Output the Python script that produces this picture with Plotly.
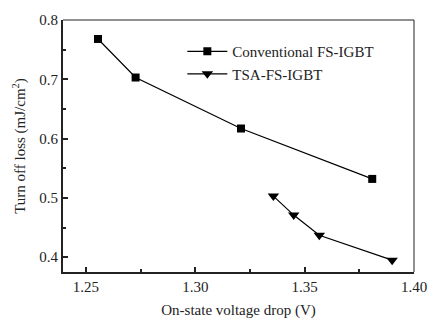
import plotly.graph_objects as go

conv_x = [1.2555, 1.2727, 1.3209, 1.3809]
conv_y = [0.768, 0.703, 0.617, 0.532]
tsa_x = [1.3357, 1.345, 1.3567, 1.390]
tsa_y = [0.503, 0.471, 0.437, 0.395]

x_ticks = [1.25, 1.30, 1.35, 1.40]
x_labels = ["1.25", "1.30", "1.35", "1.40"]
y_ticks = [0.4, 0.5, 0.6, 0.7, 0.8]
y_labels = ["0.4", "0.5", "0.6", "0.7", "0.8"]

font = "Liberation Serif, Times New Roman, serif"

fig = go.Figure()
fig.add_trace(go.Scatter(x=conv_x, y=conv_y, mode="lines+markers", name="Conventional FS-IGBT",
                         line=dict(color="black", width=1.2),
                         marker=dict(symbol="square", size=8, color="black")))
fig.add_trace(go.Scatter(x=tsa_x, y=tsa_y, mode="lines+markers", name="TSA-FS-IGBT",
                         line=dict(color="black", width=1.2),
                         marker=dict(symbol="triangle-down", size=10, color="black")))

fig.update_layout(
    width=446, height=328,
    margin=dict(l=63, r=32, t=15, b=53),
    paper_bgcolor="white", plot_bgcolor="white",
    font=dict(family=font, size=15, color="#222"),
    showlegend=True,
    legend=dict(x=0.34, y=0.94, xanchor="left", yanchor="top", bgcolor="rgba(0,0,0,0)",
                font=dict(size=15, family=font), itemwidth=40, tracegroupgap=0),
)
fig.update_xaxes(range=[1.2395, 1.40], tickvals=x_ticks, ticktext=x_labels,
                 ticks="inside", ticklen=5, tickwidth=1.5, tickcolor="#222",
                 minor=dict(tickvals=[1.275, 1.325, 1.375], ticks="inside", ticklen=3, tickcolor="#222"),
                 showline=True, linewidth=2, linecolor="#222", showgrid=False, zeroline=False,
                 title=dict(text="On-state voltage drop (V)", font=dict(size=15, family=font), standoff=10))
fig.update_yaxes(range=[0.375, 0.8], tickvals=y_ticks, ticktext=y_labels,
                 ticks="inside", ticklen=5, tickwidth=1.5, tickcolor="#222",
                 minor=dict(tickvals=[0.45, 0.55, 0.65, 0.75], ticks="inside", ticklen=3, tickcolor="#222"),
                 showline=True, linewidth=2, linecolor="#222", showgrid=False, zeroline=False,
                 title=dict(text="Turn off loss (mJ/cm<sup>2</sup>)", font=dict(size=15, family=font), standoff=10))
fig.add_shape(type="line", xref="paper", yref="paper", x0=0, x1=1, y0=1, y1=1, line=dict(color="#222", width=1))
fig.add_shape(type="line", xref="paper", yref="paper", x0=1, x1=1, y0=0, y1=1, line=dict(color="#222", width=1))

fig.write_html("out.html")
